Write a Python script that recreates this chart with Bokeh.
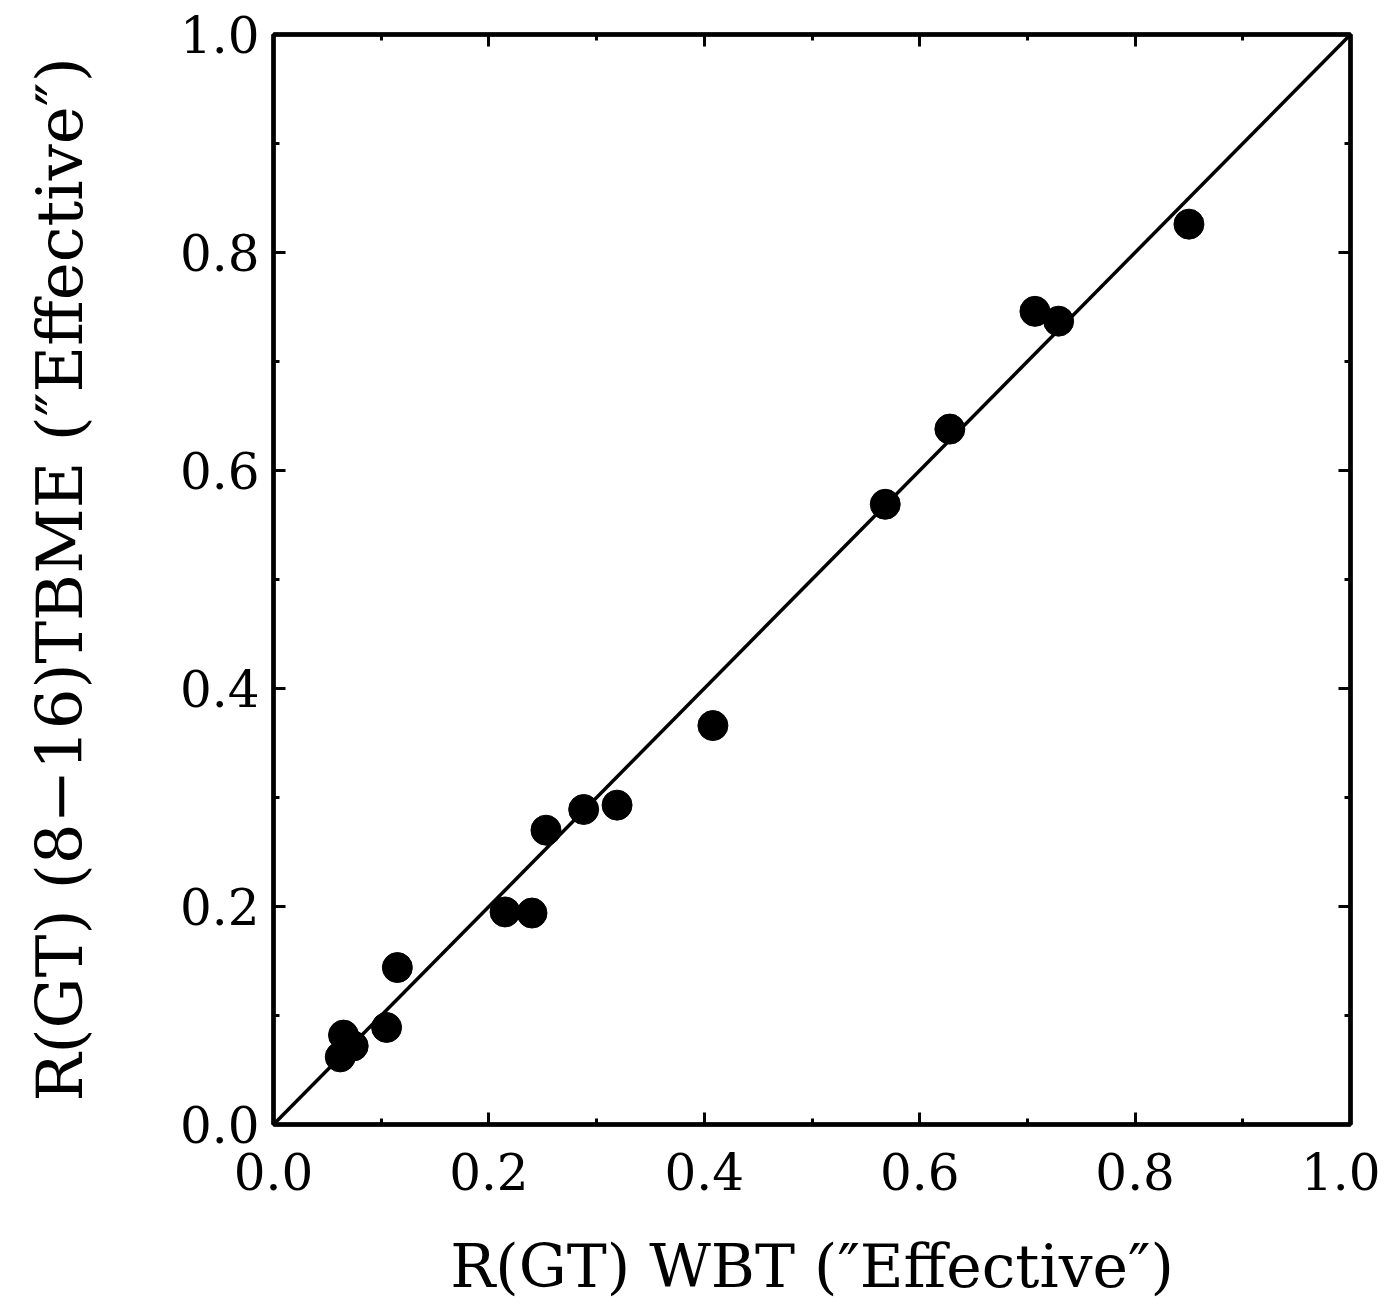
from bokeh.plotting import figure
from bokeh.models import Range1d, LinearAxis, FixedTicker, PrintfTickFormatter
from bokeh.embed import file_html
from bokeh.resources import INLINE

# Data
wbt = [0.062, 0.065, 0.074, 0.105, 0.115, 0.215, 0.240, 0.253, 0.288, 0.319,
       0.408, 0.568, 0.628, 0.707, 0.729, 0.850]
tbme = [0.062, 0.082, 0.072, 0.089, 0.144, 0.195, 0.194, 0.270, 0.289, 0.293,
        0.366, 0.569, 0.638, 0.746, 0.737, 0.826]
diag = [0.0, 1.0]
major_ticks = [0.0, 0.2, 0.4, 0.6, 0.8, 1.0]
minor_ticks = [0.1, 0.3, 0.5, 0.7, 0.9]
x_label = "R(GT) WBT (\u2033Effective\u2033)"
y_label = "R(GT) (8\u221216)TBME (\u2033Effective\u2033)"

FONT = "DejaVu Serif"

p = figure(output_backend="svg", toolbar_location=None,
           frame_width=1077, frame_height=1090,
           min_border_left=273, min_border_right=30,
           min_border_top=34, min_border_bottom=170,
           x_range=Range1d(0, 1), y_range=Range1d(0, 1),
           x_axis_label=x_label, y_axis_label=y_label)
p.background_fill_color = "white"
p.border_fill_color = "white"
p.grid.visible = False
p.outline_line_color = "black"
p.outline_line_width = 4

def style_axis(ax, labels=True):
    ax.ticker = FixedTicker(ticks=major_ticks, minor_ticks=minor_ticks)
    ax.formatter = PrintfTickFormatter(format="%.1f")
    ax.axis_line_color = "black"
    ax.axis_line_width = 4.5
    ax.major_tick_in = 12
    ax.major_tick_out = 0
    ax.minor_tick_in = 6
    ax.minor_tick_out = 0
    ax.major_tick_line_width = 3
    ax.minor_tick_line_width = 3
    ax.major_tick_line_color = "black"
    ax.minor_tick_line_color = "black"
    ax.major_label_text_font = FONT
    ax.major_label_text_font_size = "50px"
    ax.major_label_text_color = "black"
    ax.axis_label_text_font = FONT
    ax.axis_label_text_font_style = "normal"
    ax.axis_label_text_color = "black"
    if not labels:
        ax.major_label_text_font_size = "0px"
        ax.major_label_text_alpha = 0

for ax in p.xaxis:
    style_axis(ax)
    ax.axis_label_text_font_size = "60px"
    ax.major_label_standoff = 28
    ax.axis_label_standoff = 38
for ax in p.yaxis:
    style_axis(ax)
    ax.axis_label_text_font_size = "64px"
    ax.major_label_standoff = 14
    ax.axis_label_standoff = 80

top = LinearAxis()
style_axis(top, labels=False)
top.major_label_standoff = 0
p.add_layout(top, "above")
right = LinearAxis()
style_axis(right, labels=False)
right.major_label_standoff = 0
p.add_layout(right, "right")

p.line(diag, diag, line_color="black", line_width=3.5)
p.scatter(wbt, tbme, marker="circle", size=30, fill_color="black", line_color="black")

open("out.html", "w").write(file_html(p, INLINE))
